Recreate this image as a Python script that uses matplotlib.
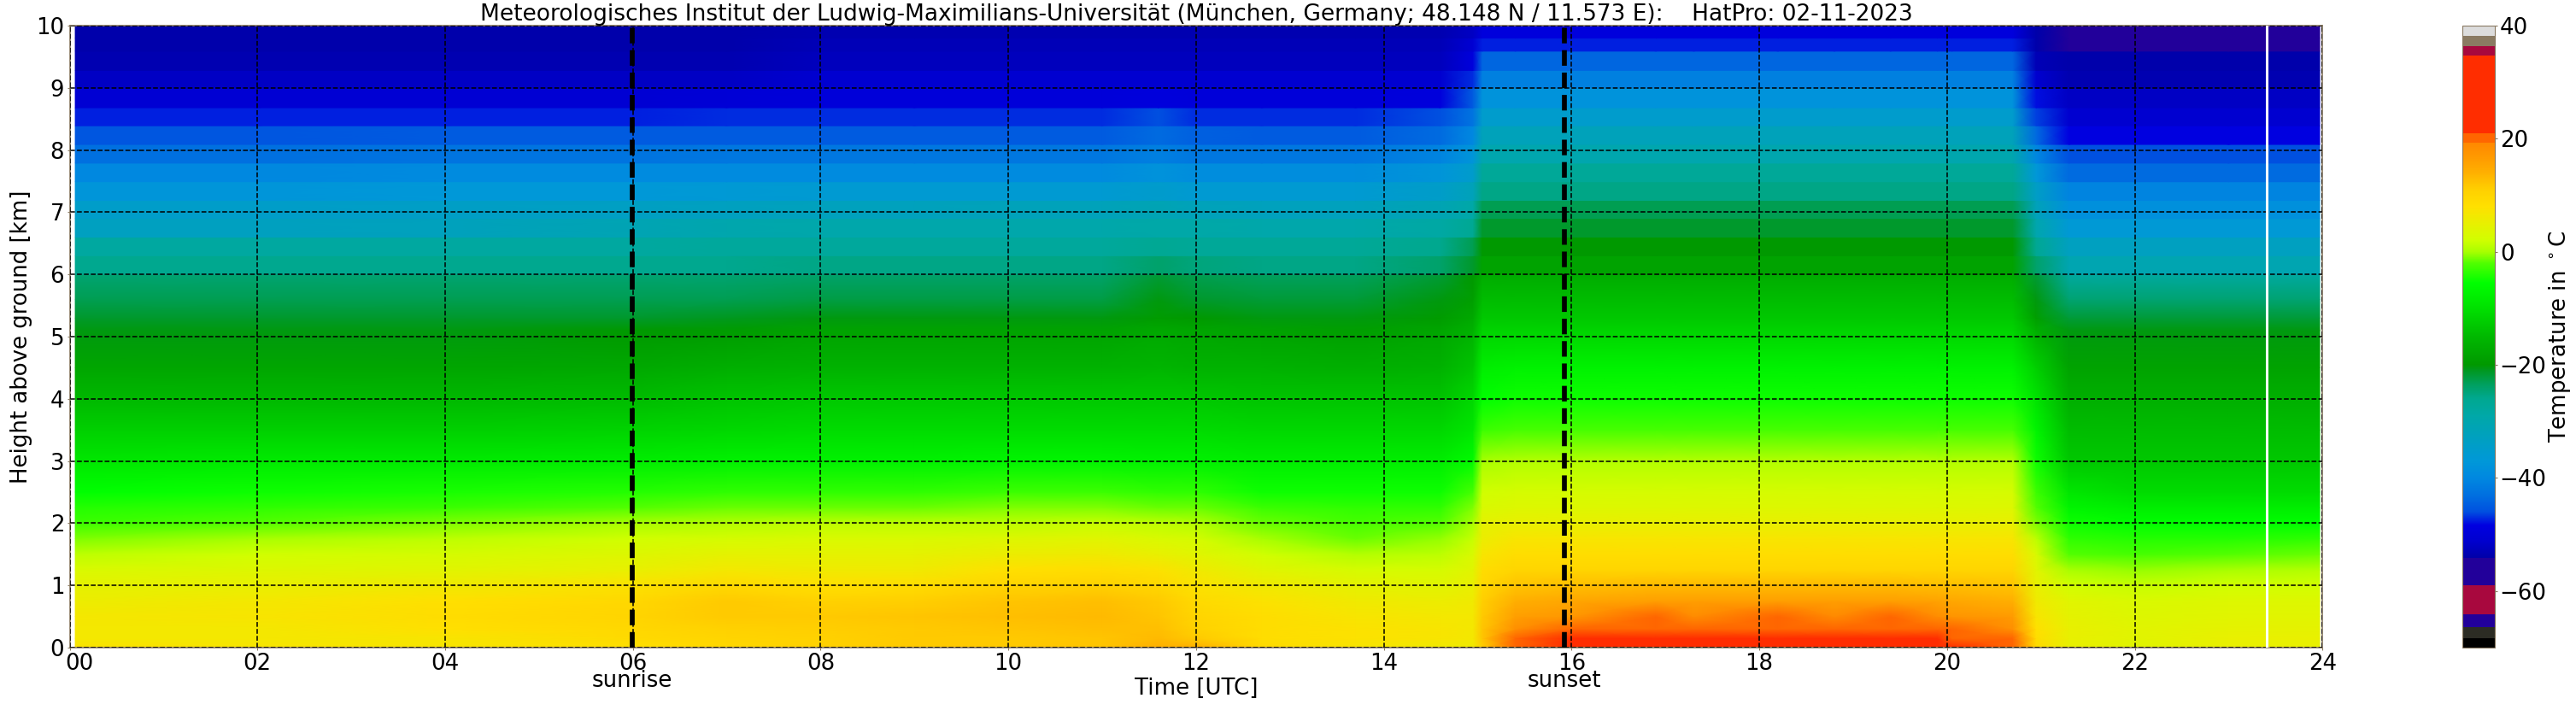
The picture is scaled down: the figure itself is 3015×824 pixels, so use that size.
import numpy as np
import matplotlib
matplotlib.use("Agg")
import matplotlib.pyplot as plt
from matplotlib.colors import LinearSegmentedColormap, Normalize
from matplotlib.cm import ScalarMappable
from matplotlib.transforms import ScaledTranslation

# ---- data -----------------------------------------------------------------
title = ("Meteorologisches Institut der Ludwig-Maximilians-Universität "
         "(München, Germany; 48.148 N / 11.573 E):    HatPro: 02-11-2023")
xtick_hours = [0, 2, 4, 6, 8, 10, 12, 14, 16, 18, 20, 22, 24]
xtick_labels = ["00", "02", "04", "06", "08", "10", "12", "14", "16", "18", "20", "22", "24"]
ytick_km = [0, 1, 2, 3, 4, 5, 6, 7, 8, 9, 10]
cbar_ticks = [-60, -40, -20, 0, 20, 40]
sunrise_h = 5.99
sunset_h = 15.92
gap_h = 23.41

low_heights = [0, .15, .3, .5, .75, 1, 1.25, 1.5, 1.75, 2, 2.25, 2.5, 3, 3.5, 4, 4.5, 5.1, 5.3, 5.6, 6]
band_edges = [6, 6.3, 6.6, 6.9, 7.19, 7.49, 7.79, 8.09, 8.39, 8.68, 9, 9.28, 9.59, 9.8, 10]

times = [0.06, 2, 4, 6, 7, 8, 9, 10, 11, 11.6, 12, 12.7, 13.7, 14.6, 14.95, 15.05, 15.4,
         16, 16.9, 17.3, 18.2, 18.8, 19.4, 19.9, 20.05, 20.7, 20.95, 21.3, 22, 23, 23.97]

p00 = [7.5,6.5,6.5,6.5,5.5,4.5,3,1,-1,-3,-4,-5.5,-9,-12,-15,-18,-20.5, -21.5,-23,-24.5,-26,-28,-33,-34.5,-37.5,-40,-43,-45.5,-47.5,-50.5,-52,-53.5,-54,-54]
p02 = [7,6.5,6.5,7,6.5,5,3.5,2,0,-2,-3.5,-5,-8.5,-12,-15,-18,-20.5, -21.5,-23,-24.5,-26,-28,-33,-34.5,-37.5,-40,-43,-45.5,-47.5,-50.5,-52,-53.5,-54,-54]
p04 = [7,7,8,8.5,8,6,4,2.5,1,-1,-3,-4.5,-8.5,-12,-15,-18,-20.5, -21.5,-23,-24.5,-26,-28,-32.5,-34,-37,-39.5,-42.5,-45,-47.5,-50.5,-52,-53.5,-54,-54]
p06 = [8,9,9.5,10,9.5,7.5,5,3.5,2,0,-2,-4,-8,-11.5,-14.5,-17.5,-20, -21.5,-23,-24.5,-26,-28,-31,-33.5,-37,-39.5,-42.5,-45,-47.5,-50.5,-52,-53.5,-54,-54]
p07 = [9.5,10,10.5,11.5,11.5,9,6.5,4.5,2.5,0.5,-1.5,-3.5,-7.5,-11,-13.5,-16.5,-19.5, -21,-23,-24.5,-26,-27.5,-30,-33,-36.5,-39.5,-42,-45,-47,-50,-52,-53.5,-54,-54]
p08 = [10.5,10.5,11,11.5,10.5,8,6,4.5,3,1,-1.5,-3.5,-7.5,-10.5,-13,-16,-18.5, -20.5,-22.5,-24,-25.5,-27.5,-29.5,-32.5,-36,-39.5,-42,-45,-47,-49.5,-51,-52.5,-53,-53.5]
p09 = [11.5,11.5,11.5,12,11,8.5,6,4.5,3,1,-1.5,-3.5,-7.5,-10.5,-13,-16,-18.5, -20.5,-22.5,-24,-25.5,-27.5,-29.5,-32.5,-36,-39.5,-42,-45,-47,-49.5,-51,-52.5,-53,-53.5]
p10 = [11.5,11.5,12,12.5,12,10,8,5.5,3.5,1,-1,-3,-7,-10.5,-13,-16,-18.5, -20.5,-22.5,-24,-25.5,-27.5,-29.5,-32,-36,-39.5,-42,-45,-47,-49.5,-51,-52.5,-53,-53.5]
p11 = [12,12,12.5,13,12.5,10.5,8.5,6,4,1.5,-1,-3,-7,-10.5,-13,-16,-18.5, -20.5,-22.5,-24,-25.5,-27.5,-29.5,-32,-36,-39.5,-42,-45,-47,-49.5,-51,-52.5,-53,-53.5]
p116 = [14,13,12.5,12,11.5,9.5,7.5,5,3,1,-1.5,-3.5,-7.5,-10.5,-13,-15.5,-17.5, -19.5,-20.5,-22,-24,-26.5,-29,-31,-35,-38,-41,-43.5,-46,-49,-51,-52.5,-53,-53.5]
p12 = [14,11.5,10.5,10,9,7.5,6,4,2.5,0.5,-1.5,-3.5,-7.5,-10.5,-13,-16,-18, -20,-21.5,-23,-25,-27,-29,-32,-36,-39,-42,-44.5,-47,-49.5,-51,-52.5,-53,-53.5]
p127 = [9,8.5,8.5,8.5,7.5,6,4,2,0,-1.5,-3,-5,-8,-11,-13.5,-16,-18.5, -20.5,-22,-23.5,-25.5,-27,-29.5,-32.5,-36,-39,-42,-45,-47,-49.5,-51,-52.5,-53,-53.5]
p137 = [7,7.5,7.5,7,6,4.5,2.5,0.5,-1.5,-2.5,-3.5,-5,-8,-11,-13.5,-16.5,-19, -20.5,-22,-23.5,-25.5,-27,-29.5,-32.5,-36,-39,-42,-45,-47,-49.5,-51,-52.5,-53,-53.5]
p146 = [6,7,7,6.5,5.5,4,2.5,1,-0.5,-2,-3.5,-5,-8,-11,-13.5,-16,-18, -19.5,-20.5,-22,-24,-26,-28.5,-31,-34.5,-37.5,-40.5,-43.5,-46,-49,-51,-52.5,-53,-53.5]
p1495 = [6,6.5,6.5,6.5,6,5,4,3,1.5,0,-1,-2.5,-6,-9,-11,-13.5,-16, -17.5,-19,-20,-21.5,-23,-26.5,-29,-32,-35,-37.5,-40,-42.5,-45,-47,-49,-50.5,-52]

warm_mid = [10,8.5,7,5,3.5,2.5,0.5,-2.5,-5,-7.5,-11.5, -13,-14.5,-17, -18.5,-20,-21.5,-23,-25.5,-27,-30,-32,-35,-38,-41,-44,-47.5,-49]
p1505 = [11,12,12,11.5,11,9.5,8.5,7,5.5,4.5,3,2,0,-3,-5.5,-8,-11.5, -13,-14.5,-17, -18.5,-20,-21.5,-23,-25.5,-27,-30,-32,-35,-38,-41,-44,-47.5,-49]
p154 = [20,20,18,16,14,12] + warm_mid
p16 = [22,21.2,19.6,17,15,12.5] + warm_mid
p169 = [25,23,20.5,19.3,16,13] + warm_mid
p173 = [24,21,20,18.6,16,13] + warm_mid
p182 = [25,23,20.6,19.4,16,13] + warm_mid
p188 = [24,22,20.2,18.9,16,13] + warm_mid
p194 = [25,23,20.8,19.5,16,13] + warm_mid
p199 = [24,21.5,20,18.5,15.5,12.5] + warm_mid
p2005 = [21.5,20.8,19.6,17.5,15,12.5] + warm_mid
p207 = [20,19.8,18,16.5,14,12] + warm_mid

p2095 = [9,8.5,8,7,6,5,4,3,1,-1,-2,-3,-5,-7,-9.5,-12,-16.5, -19,-20.5,-22,-24,-26.5,-30,-32,-34,-37,-40,-43.5,-46.5,-48,-51,-53,-54,-54]
night_top = [-13,-14.5,-16.5,-18.5,-20.5, -22,-24.5,-28, -30.5,-33,-36.5,-38.5,-40.5,-43.5,-46,-48.5,-51,-52,-53.5,-54,-55,-56]
p213 = [5,5,5,4.5,4,2,0,-2,-3.5,-5,-7,-9] + night_top
p22 = [4,4,4,3.5,3,1.5,-0.5,-2.5,-4,-5.5,-8,-10.5] + night_top
p23 = [5,5,4.5,4,3.5,2,0,-2,-4,-5.5,-8,-10.5] + night_top
p24 = [5,5,4.5,4,3.5,2,0.5,-1.5,-3.5,-5.5,-8,-10.5] + night_top

profiles = [p00, p02, p04, p06, p07, p08, p09, p10, p11, p116, p12, p127, p137, p146,
            p1495, p1505, p154, p16, p169, p173, p182, p188, p194, p199, p2005, p207,
            p2095, p213, p22, p23, p24]

# colour scale as seen in the colour bar: (temperature, colour)
cmap_stops = [(-70, "#000000"), (-68.3, "#000000"), (-68.3, "#2c2c24"), (-66.3, "#2c2c24"),
              (-66.3, "#22009a"), (-64.1, "#22009a"), (-64.1, "#a8083e"), (-59, "#a8083e"),
              (-59, "#22009a"), (-54.2, "#22009a"), (-54.2, "#0000a8"), (-51, "#0000d0"),
              (-48.4, "#0000e0"), (-46, "#0050e0"), (-43, "#0070e0"), (-40, "#0088e0"),
              (-37, "#0098d8"), (-33, "#00a0c0"), (-29, "#00a8a8"), (-26, "#00a890"),
              (-23.5, "#00a060"), (-21, "#009820"), (-20, "#009900"), (-15, "#00b800"),
              (-10, "#00e000"), (-5.5, "#00ff00"), (-2, "#50ff00"), (0, "#a8ff00"),
              (2, "#d0ff00"), (5, "#e8f000"), (8, "#ffe000"), (11, "#ffd000"),
              (14, "#ffb000"), (17, "#ff9800"), (19.3, "#ff8800"), (19.3, "#ff6600"),
              (21, "#ff6600"), (21, "#ff2d00"), (34.75, "#ff2d00"), (34.75, "#a8083e"),
              (36.4, "#a8083e"), (36.4, "#8a7a62"), (38.2, "#8a7a62"), (38.2, "#dcdcdc"),
              (40, "#dcdcdc")]

# ---- figure ----------------------------------------------------------------
W, H, DPI = 3015, 824, 100
FS = 18.7
EDGE = "#8a7a62"
fig = plt.figure(figsize=(W / DPI, H / DPI), dpi=DPI, facecolor="white")
L, R, T, B = 81.5, 2718.3, 30, 758
ax = fig.add_axes([L / W, 1 - B / H, (R - L) / W, (B - T) / H])
cax = fig.add_axes([2882 / W, 1 - B / H, 37.5 / W, (B - T) / H])

vmin, vmax = -70, 40
norm = Normalize(vmin, vmax)
cmap = LinearSegmentedColormap.from_list(
    "hatpro", [((t - vmin) / (vmax - vmin), c) for t, c in cmap_stops], N=1100)

Z = np.array(profiles, dtype=float).T      # rows = heights, columns = times
n_low = len(low_heights)
ax.pcolormesh(times, low_heights, Z[:n_low], shading="gouraud", cmap=cmap, norm=norm)
for i in range(len(band_edges) - 1):
    row = Z[n_low + i]
    ax.pcolormesh(times, band_edges[i:i + 2], np.vstack([row, row]),
                  shading="gouraud", cmap=cmap, norm=norm)

ax.set_xlim(0, 24)
ax.set_ylim(0, 10)
ax.set_xticks(xtick_hours)
ax.set_xticklabels(xtick_labels)
ax.set_yticks(ytick_km)
ax.tick_params(labelsize=FS, length=2, width=0.8, color=EDGE, pad=2.5)
ax.grid(True, color="black", linestyle="--", linewidth=1.1)
ax.set_axisbelow(False)
for s in ax.spines.values():
    s.set_color(EDGE)
    s.set_linewidth(1.2)

# first hour label sits right of its tick in the reference
first = ax.get_xticklabels()[0]
first.set_transform(first.get_transform() + ScaledTranslation(11.5 / DPI, 0, fig.dpi_scale_trans))

ax.axvline(gap_h, color="white", linewidth=2.2, zorder=5)
dash = (0, (3.2, 1.4))
ax.axvline(sunrise_h, color="black", linestyle=dash, linewidth=4.1, zorder=6)
ax.axvline(sunset_h, color="black", linestyle=dash, linewidth=4.1, zorder=6)

ax.set_ylabel("Height above ground [km]", fontsize=FS, va="center")
ax.yaxis.set_label_coords((25 - L) / (R - L), 0.5)
ax.set_xlabel("Time [UTC]", fontsize=FS, va="center")
ax.xaxis.set_label_coords(0.5, (B - 806) / (B - T))
ax.set_title(title, fontsize=19, pad=3.6)
for name, hour in (("sunrise", sunrise_h), ("sunset", sunset_h)):
    ax.text(hour, (B - 797) / (B - T), name, transform=ax.get_xaxis_transform(),
            ha="center", va="center", fontsize=FS)

cb = fig.colorbar(ScalarMappable(norm=norm, cmap=cmap), cax=cax, ticks=cbar_ticks)
cb.ax.tick_params(labelsize=FS, length=2, width=0.8, color=EDGE, pad=2.5)
cb.outline.set_edgecolor(EDGE)
cb.set_label(r"Temperature in $^\circ$C", fontsize=FS, va="center")
cb.ax.yaxis.set_label_coords((2996 - 2882) / 37.5, 0.5)

fig.savefig("out.png", dpi=DPI)
